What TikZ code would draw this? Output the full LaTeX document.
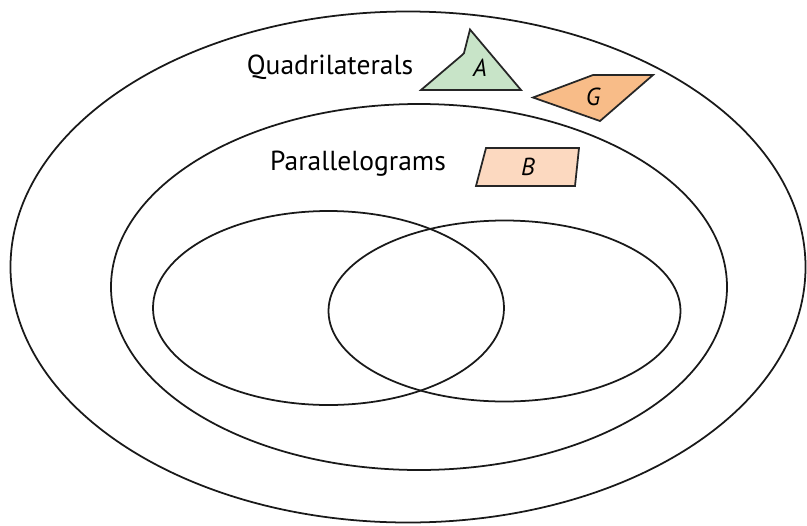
\documentclass[tikz,border=0pt]{standalone}
\usepackage{fontspec}
\setmainfont{PT Sans}
\begin{document}
\begin{tikzpicture}[x=0.03cm,y=-0.03cm,
  ring/.style={draw=black!90,line width=1.5pt},
  shp/.style={draw=black!85,line width=1.5pt,line join=miter},
  lbl/.style={font=\fontsize{23.5}{26}\selectfont},
  let/.style={font=\fontsize{21}{24}\selectfont\itshape}]
\useasboundingbox (0,0) rectangle (807,525);
\definecolor{gA}{RGB}{200,228,200}
\definecolor{oG}{RGB}{248,188,136}
\definecolor{pB}{RGB}{252,217,192}
\draw[ring] (408,267) ellipse [x radius=397.5, y radius=255.5];
\draw[ring] (419,287) ellipse [x radius=308, y radius=183];
\draw[ring] (328.5,308) ellipse [x radius=175.5, y radius=97];
\draw[ring] (504.5,311) ellipse [x radius=176, y radius=90.5];
\filldraw[shp,fill=gA] (421,90) -- (461,56) -- (464,53) -- (470,29.5) -- (521,90) -- cycle;
\filldraw[shp,fill=oG] (533,97.5) -- (593,75) -- (653,75) -- (600,121) -- cycle;
\filldraw[shp,fill=pB] (476,186) -- (486,148) -- (579,148) -- (575,186) -- cycle;
\node[lbl] (q) at (330,67) {Quadrilaterals};
\node[lbl] (p) at (358,164) {Parallelograms};
\node[let] (a) at (480,68) {A};
\node[let] (g) at (593,97) {G};
\node[let] (b) at (528,167) {B};
\end{tikzpicture}
\end{document}
